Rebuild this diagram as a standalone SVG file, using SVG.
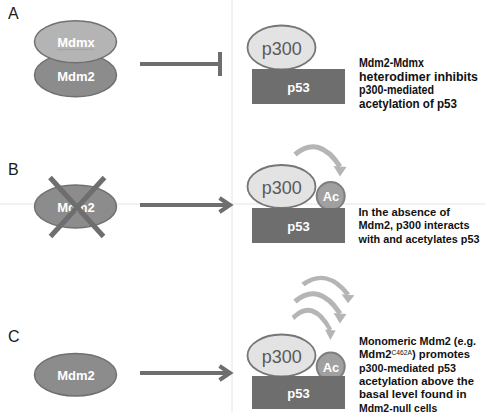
<svg xmlns="http://www.w3.org/2000/svg" xmlns:xlink="http://www.w3.org/1999/xlink" width="485" height="416" viewBox="0 0 485 416">
<style>
.lbl{font-family:"Liberation Sans",Arial,sans-serif;font-size:16px;fill:#1a1a1a}
.mdm{fill:#8c8c8c;stroke:#707070;stroke-width:1.5}
.mdmx{fill:#b4b4b4;stroke:#707070;stroke-width:1.5}
.wt{font-family:"Liberation Sans",Arial,sans-serif;font-weight:bold;font-size:13px;fill:#fff;text-anchor:middle}
.p300{fill:#e3e3e3;stroke:#767676;stroke-width:1.8}
.p300t{font-family:"Liberation Sans",Arial,sans-serif;font-size:18px;fill:#5a5a5a;text-anchor:middle}
.p53{fill:#6e6e6e}
.ac{fill:#a0a0a0;stroke:#7e7e7e;stroke-width:2}
.desc{font-family:"Liberation Sans",Arial,sans-serif;font-weight:bold;font-size:12.4px;fill:#111}
.descb{font-family:"Liberation Sans",Arial,sans-serif;font-weight:bold;font-size:10.9px;fill:#111}
.conn{stroke:#6e6e6e;stroke-width:4;fill:none}
.guide{stroke:#e4e4e4;stroke-width:1}
</style>
<defs>
<g id="curl">
<path d="M0 0 Q24 -20 45 12" fill="none" stroke="#b5b5b5" stroke-width="5"/>
<polygon points="38.5,11.5 51.5,12.5 45,22" fill="#b5b5b5"/>
</g>
</defs>
<g id="guides">
<line class="guide" x1="232" y1="0" x2="232" y2="412"/>
<line class="guide" x1="0" y1="204" x2="485" y2="204"/>
</g>
<g id="labels">
<text class="lbl" x="8" y="18.5">A</text>
<text class="lbl" x="8" y="175">B</text>
<text class="lbl" x="8" y="342">C</text>
</g>
<g id="A-mdm2">
<ellipse class="mdm" cx="75.5" cy="75" rx="41" ry="21.7"/>
<text class="wt" x="76" y="80.5">Mdm2</text>
</g>
<g id="A-mdmx">
<ellipse class="mdmx" cx="75.5" cy="41.7" rx="41" ry="21"/>
<text class="wt" x="76" y="47">Mdmx</text>
<path d="M57 50 l1.5 -1 l1.5 1 l1.5 -1 l1.5 1 l1.5 -1 l1.5 1 l1.5 -1 l1.5 1 l1.5 -1 l1.5 1 l1.5 -1 l1.5 1 l1.5 -1 l1.5 1 l1.5 -1 l1.5 1 l1.5 -1 l1.5 1 l1.5 -1 l1.5 1 l1.5 -1 l1.5 1 l1.5 -1 l1.5 1 l1.5 -1" fill="none" stroke="#999" stroke-width="0.8"/>
</g>
<g id="A-complex">
<ellipse class="p300" cx="281.5" cy="47.5" rx="34" ry="22"/>
<text class="p300t" x="281.7" y="55">p300</text>
<rect class="p53" x="252" y="69" width="93" height="35"/>
<text class="wt" x="298.5" y="91.5">p53</text>
</g>
<g id="A-text">
<text class="desc" x="359" y="67.3" textLength="65" lengthAdjust="spacingAndGlyphs">Mdm2-Mdmx</text>
<text class="desc" x="359" y="80.7" textLength="119" lengthAdjust="spacingAndGlyphs">heterodimer inhibits</text>
<text class="desc" x="359" y="94.1" textLength="75" lengthAdjust="spacingAndGlyphs">p300-mediated</text>
<text class="desc" x="359" y="107.5" textLength="98" lengthAdjust="spacingAndGlyphs">acetylation of p53</text>
</g>
<g id="B-mdm2">
<ellipse class="mdm" cx="75.5" cy="206.5" rx="41" ry="21.5"/>
<text class="wt" x="76" y="212">Mdm2</text>
<line x1="50" y1="177.5" x2="103.5" y2="236.5" stroke="#6e6e6e" stroke-width="5"/>
<line x1="104.5" y1="177.5" x2="50.5" y2="236.5" stroke="#6e6e6e" stroke-width="5"/>
</g>
<g id="B-complex">
<ellipse class="p300" cx="281.5" cy="186.5" rx="34" ry="21.5"/>
<text class="p300t" x="281.7" y="194">p300</text>
<circle class="ac" cx="330.7" cy="196" r="14"/>
<text class="wt" x="331" y="201">Ac</text>
<rect class="p53" x="252" y="208" width="93" height="35"/>
<text class="wt" x="298.5" y="230.5">p53</text>
</g>
<g id="B-text">
<text class="descb" x="358.5" y="216" textLength="91.5" lengthAdjust="spacingAndGlyphs">In the absence of</text>
<text class="descb" x="358.5" y="229.3" textLength="111" lengthAdjust="spacingAndGlyphs">Mdm2, p300 interacts</text>
<text class="descb" x="358.5" y="242.6" textLength="121" lengthAdjust="spacingAndGlyphs">with and acetylates p53</text>
</g>
<g id="C-mdm2">
<ellipse class="mdm" cx="75.5" cy="374.7" rx="41" ry="21.3"/>
<text class="wt" x="76" y="380">Mdm2</text>
</g>
<g id="C-complex">
<ellipse class="p300" cx="281.5" cy="355.5" rx="34" ry="21"/>
<text class="p300t" x="281.7" y="363">p300</text>
<circle class="ac" cx="330.7" cy="366.5" r="14"/>
<text class="wt" x="331" y="371.5">Ac</text>
<rect class="p53" x="252" y="376" width="93" height="33"/>
<text class="wt" x="298.5" y="397.5">p53</text>
</g>
<g id="C-text">
<text class="descb" x="359" y="345" textLength="117" lengthAdjust="spacingAndGlyphs">Monomeric Mdm2 (e.g.</text>
<text class="descb" x="359" y="358.3" textLength="111" lengthAdjust="spacingAndGlyphs">Mdm2<tspan font-size="6.5" font-weight="normal" dy="-3.5">C462A</tspan><tspan dy="3.5">) promotes</tspan></text>
<text class="descb" x="359" y="371.6" textLength="97" lengthAdjust="spacingAndGlyphs">p300-mediated p53</text>
<text class="descb" x="359" y="384.9" textLength="115" lengthAdjust="spacingAndGlyphs">acetylation above the</text>
<text class="descb" x="359" y="398.2" textLength="107.5" lengthAdjust="spacingAndGlyphs">basal level found in</text>
<text class="descb" x="359" y="411.5" textLength="78.3" lengthAdjust="spacingAndGlyphs">Mdm2-null cells</text>
</g>
<g id="connectors">
<line class="conn" x1="140" y1="64" x2="220" y2="64"/>
<line class="conn" x1="220" y1="52" x2="220" y2="76"/>
<line class="conn" x1="140" y1="205" x2="229" y2="205"/>
<polyline class="conn" points="219.5,198 230,205 219.5,212"/>
<line class="conn" x1="140" y1="373" x2="229" y2="373"/>
<polyline class="conn" points="219.5,366 230,373 219.5,380"/>
<use xlink:href="#curl" transform="translate(295,154.5)"/>
<use xlink:href="#curl" transform="translate(293,318) scale(0.83,1)"/>
<use xlink:href="#curl" transform="translate(295,301.5)"/>
<use xlink:href="#curl" transform="translate(303,284.5) scale(1,0.85)"/>
</g>
</svg>
